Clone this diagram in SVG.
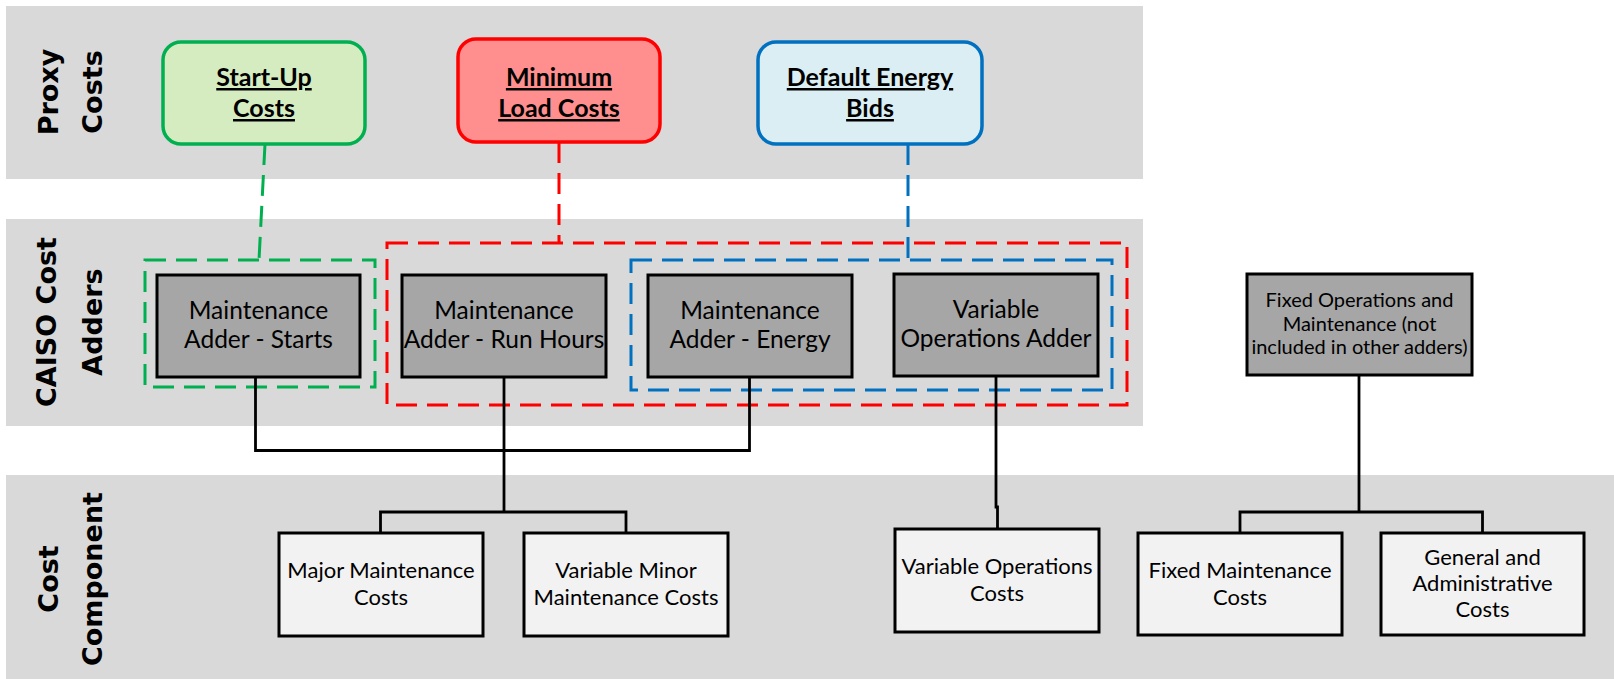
<svg xmlns="http://www.w3.org/2000/svg" width="1614" height="679" viewBox="0 0 1614 679">
<style>
.band{fill:#D9D9D9}
.lane{font-family:"DejaVu Sans",Verdana,sans-serif;font-weight:bold;font-size:27px;fill:#000;text-anchor:middle}
.proxy{stroke-width:3.5}
.ptxt{font-family:Lato,"Liberation Sans",sans-serif;font-weight:bold;font-size:25px;text-anchor:middle;text-decoration:underline;fill:#000}
.gbox{fill:#A6A6A6;stroke:#000;stroke-width:3}
.wbox{fill:#F2F2F2;stroke:#000;stroke-width:3}
.gtxt{font-family:Lato,"Liberation Sans",sans-serif;font-size:24.5px;text-anchor:middle;fill:#000}
.stxt{font-family:Lato,"Liberation Sans",sans-serif;font-size:20px;text-anchor:middle;fill:#000}
.wtxt{font-family:Lato,"Liberation Sans",sans-serif;font-size:22px;text-anchor:middle;fill:#000}
.dash{fill:none;stroke-width:3;stroke-dasharray:21 10}
.conn{fill:none;stroke:#000;stroke-width:2.8}
</style>
<g id="bands">
<rect class="band" x="6" y="6" width="1137" height="173"/>
<rect class="band" x="6" y="219" width="1137" height="207"/>
<rect class="band" x="6" y="475" width="1608" height="204"/>
<text class="lane" transform="translate(0,92) rotate(-90)"><tspan x="0" y="58">Proxy</tspan><tspan x="0" y="102">Costs</tspan></text>
<text class="lane" transform="translate(0,322) rotate(-90)"><tspan x="0" y="56">CAISO Cost</tspan><tspan x="0" y="102">Adders</tspan></text>
<text class="lane" transform="translate(0,579) rotate(-90)"><tspan x="0" y="58">Cost</tspan><tspan x="0" y="102">Component</tspan></text>
</g>
<g id="groups">
<rect class="dash" x="145" y="260" width="230" height="127" stroke="#00B050"/>
<rect class="dash" x="387" y="243" width="740" height="162" stroke="#FF0000"/>
<rect class="dash" x="631" y="260" width="481" height="130" stroke="#0070C0"/>
</g>
<g id="connectors">
<line class="dash" x1="265" y1="144" x2="259" y2="260" stroke="#00B050"/>
<line class="dash" x1="559" y1="142" x2="559" y2="243" stroke="#FF0000"/>
<line class="dash" x1="908" y1="144" x2="908" y2="260" stroke="#0070C0"/>
<path class="conn" d="M255.5 377 V450.5 H749.5 V377"/>
<path class="conn" d="M504 377 V512"/>
<path class="conn" d="M380.5 533 V512 H626 V533"/>
<path class="conn" d="M996 376 V507 H997.5 V529"/>
<path class="conn" d="M1359 375 V512"/>
<path class="conn" d="M1240 533 V512 H1482.5 V533"/>
</g>
<g id="startup">
<rect class="proxy" x="163" y="42" width="202" height="102" rx="18" fill="#D5ECC0" stroke="#00B050"/>
<text class="ptxt"><tspan x="264" y="86">Start-Up</tspan><tspan x="264" y="117">Costs</tspan></text>
</g>
<g id="minload">
<rect class="proxy" x="458" y="39" width="202" height="103" rx="18" fill="#FF8F8F" stroke="#FF0000"/>
<text class="ptxt"><tspan x="559" y="86">Minimum</tspan><tspan x="559" y="117">Load Costs</tspan></text>
</g>
<g id="defaultbids">
<rect class="proxy" x="758" y="42" width="224" height="102" rx="18" fill="#DAEEF3" stroke="#0070C0"/>
<text class="ptxt"><tspan x="870" y="86">Default Energy</tspan><tspan x="870" y="117">Bids</tspan></text>
</g>
<g id="adder-starts">
<rect class="gbox" x="157" y="275" width="203" height="102"/>
<text class="gtxt"><tspan x="258.5" y="319">Maintenance</tspan><tspan x="258.5" y="348">Adder - Starts</tspan></text>
</g>
<g id="adder-runhours">
<rect class="gbox" x="402" y="275" width="204" height="102"/>
<text class="gtxt"><tspan x="504" y="319">Maintenance</tspan><tspan x="504" y="348">Adder - Run Hours</tspan></text>
</g>
<g id="adder-energy">
<rect class="gbox" x="648" y="275" width="204" height="102"/>
<text class="gtxt"><tspan x="750" y="319">Maintenance</tspan><tspan x="750" y="348">Adder - Energy</tspan></text>
</g>
<g id="var-ops-adder">
<rect class="gbox" x="894" y="274" width="204" height="102"/>
<text class="gtxt"><tspan x="996" y="318">Variable</tspan><tspan x="996" y="347">Operations Adder</tspan></text>
</g>
<g id="fixed-om">
<rect class="gbox" x="1247" y="274" width="225" height="101"/>
<text class="stxt"><tspan x="1359.5" y="307">Fixed Operations and</tspan><tspan x="1359.5" y="331">Maintenance (not</tspan><tspan x="1359.5" y="354">included in other adders)</tspan></text>
</g>
<g id="major-maint">
<rect class="wbox" x="279" y="533" width="204" height="103"/>
<text class="wtxt"><tspan x="381" y="578">Major Maintenance</tspan><tspan x="381" y="605">Costs</tspan></text>
</g>
<g id="var-minor-maint">
<rect class="wbox" x="524" y="533" width="204" height="103"/>
<text class="wtxt"><tspan x="626" y="578">Variable Minor</tspan><tspan x="626" y="605">Maintenance Costs</tspan></text>
</g>
<g id="var-ops-costs">
<rect class="wbox" x="895" y="529" width="204" height="103"/>
<text class="wtxt"><tspan x="997" y="574">Variable Operations</tspan><tspan x="997" y="601">Costs</tspan></text>
</g>
<g id="fixed-maint">
<rect class="wbox" x="1138" y="533" width="204" height="102"/>
<text class="wtxt"><tspan x="1240" y="578">Fixed Maintenance</tspan><tspan x="1240" y="605">Costs</tspan></text>
</g>
<g id="ga-costs">
<rect class="wbox" x="1381" y="533" width="203" height="102"/>
<text class="wtxt"><tspan x="1482.5" y="565">General and</tspan><tspan x="1482.5" y="591">Administrative</tspan><tspan x="1482.5" y="617">Costs</tspan></text>
</g>
</svg>
